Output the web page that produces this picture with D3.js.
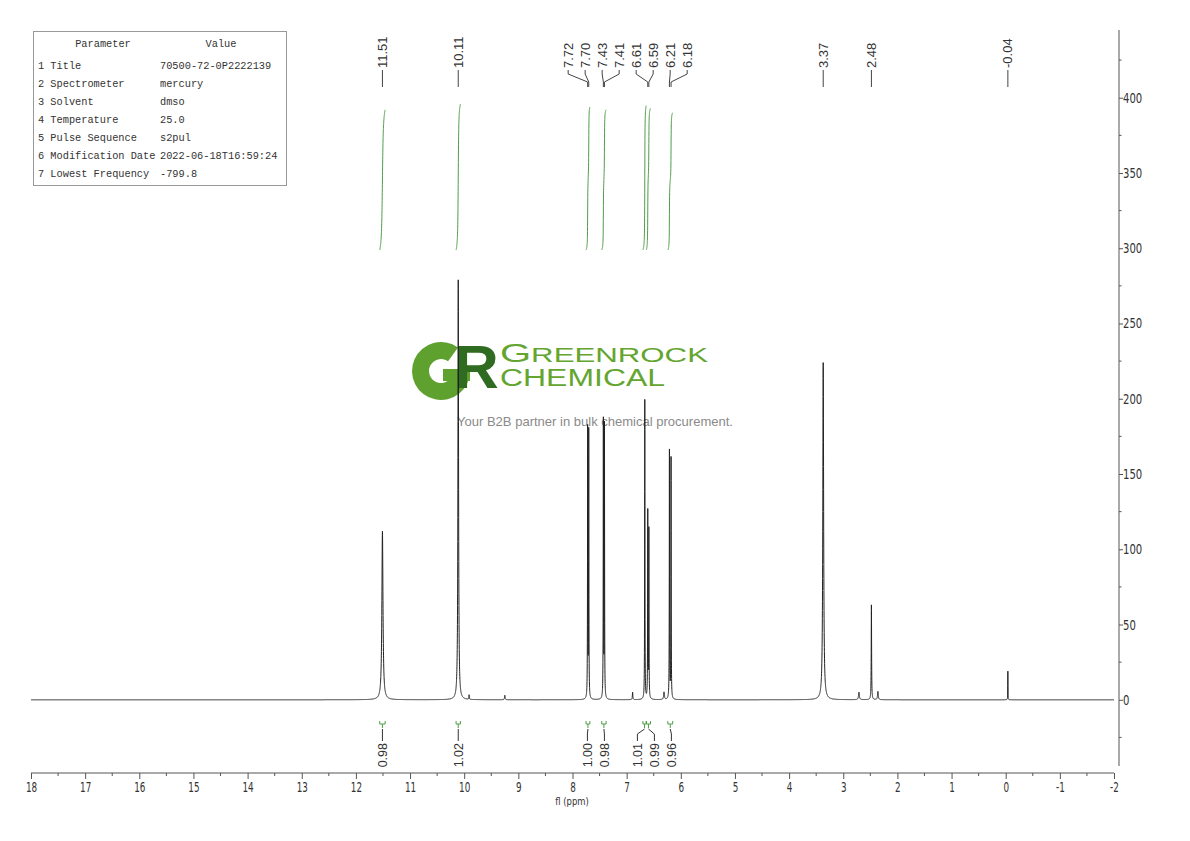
<!DOCTYPE html>
<html><head><meta charset="utf-8">
<script src="https://cdn.jsdelivr.net/npm/d3@7"></script>
<style>body{margin:0;background:#fff} svg{display:block}</style>
</head><body><svg id="c" width="1190" height="841"></svg>
<script>
// ---------- data ----------
const peakPpm    = [11.51, 10.11, 9.91, 9.25, 7.72, 7.70, 7.43, 7.41, 6.89, 6.665, 6.61, 6.59, 6.31, 6.21, 6.18, 3.37, 2.71, 2.48, 2.36, -0.04];
const peakHeight = [112, 279, 3, 3, 179, 177, 184, 181, 5, 199, 124, 112, 5, 165, 160, 224, 5, 63, 5.5, 19];
const peakWidth  = [0.012, 0.007, 0.004, 0.006, 0.003, 0.003, 0.003, 0.003, 0.005, 0.003, 0.003, 0.003, 0.008, 0.003, 0.003, 0.009, 0.009, 0.004, 0.008, 0.002];

const peakLabels = ["11.51", "10.11", "7.72", "7.70", "7.43", "7.41", "6.61", "6.59", "6.21", "6.18", "3.37", "2.48", "-0.04"];

const intFrom  = [11.56, 10.15, 7.75, 7.46, 6.70, 6.635, 6.24];
const intTo    = [11.46, 10.07, 7.68, 7.38, 6.64, 6.56, 6.15];
const intValue = [0.98, 1.02, 1.00, 0.98, 1.01, 0.99, 0.96];

const xTicks = [18, 17, 16, 15, 14, 13, 12, 11, 10, 9, 8, 7, 6, 5, 4, 3, 2, 1, 0, -1, -2];
const yTicks = [0, 50, 100, 150, 200, 250, 300, 350, 400];
const yMinorTicks = [-25, 25, 75, 125, 175, 225, 275, 325, 375, 425];

const paramNames  = ["1 Title", "2 Spectrometer", "3 Solvent", "4 Temperature", "5 Pulse Sequence", "6 Modification Date", "7 Lowest Frequency"];
const paramValues = ["70500-72-0P2222139", "mercury", "dmso", "25.0", "s2pul", "2022-06-18T16:59:24", "-799.8"];

// ---------- setup ----------
const svg = d3.select("#c");
const x = d3.scaleLinear().domain([18, -2]).range([31, 1114]);
const y = d3.scaleLinear().domain([-44, 445]).range([766, 30]);
const yInt = d3.scaleLinear().domain([0, 1]).range([250, 107]);
const narrow = "'Liberation Sans Narrow','DejaVu Sans Condensed','Liberation Sans',sans-serif";
const sans = "'Liberation Sans',Arial,sans-serif";
const green = "#4f9d47";
const fmt = d => String(d);

// ---------- spectrum samples ----------
const grid = d3.range(18, -2.0005, -0.001).concat(peakPpm).sort((a, b) => b - a);
function intensity(p) {
  let s = 0;
  for (let i = 0; i < peakPpm.length; i++) {
    const d = (p - peakPpm[i]) / peakWidth[i];
    s += peakHeight[i] / (1 + d * d);
  }
  return s;
}
const spectrum = grid.map(p => ({p, v: intensity(p)}));

// ---------- watermark ----------
const wm = svg.append("g");
const gc = [441, 371];
const arc = d3.arc().innerRadius(12).outerRadius(29);
wm.append("path")
  .attr("transform", `translate(${gc[0]},${gc[1]})`)
  .attr("d", arc({startAngle: Math.PI * 0.5, endAngle: Math.PI * 2.2}))
  .attr("fill", "#5fa12f");
wm.append("rect").attr("x", gc[0] + 2).attr("y", gc[1] - 2).attr("width", 27).attr("height", 12).attr("fill", "#5fa12f");
wm.append("text").attr("x", 454).attr("y", 388).attr("font-family", sans).attr("font-weight", "bold")
  .attr("font-size", 62).attr("fill", "#2f6b20").text("R");
const t1 = wm.append("text").attr("x", 500).attr("y", 362).attr("font-family", sans).attr("fill", "#64a52f")
  .attr("textLength", 208).attr("lengthAdjust", "spacingAndGlyphs");
t1.append("tspan").attr("font-size", 25).text("G");
t1.append("tspan").attr("font-size", 19.5).text("REENROCK");
wm.append("text").attr("x", 500).attr("y", 386).attr("font-family", sans).attr("fill", "#64a52f")
  .attr("font-size", 23.5).attr("textLength", 165).attr("lengthAdjust", "spacingAndGlyphs").text("CHEMICAL");
wm.append("text").attr("x", 457).attr("y", 426).attr("font-family", sans).attr("fill", "#8a8a8a")
  .attr("font-size", 13).attr("textLength", 276).attr("lengthAdjust", "spacingAndGlyphs")
  .text("Your B2B partner in bulk chemical procurement.");

// ---------- parameter table ----------
const tb = svg.append("g").attr("font-family", "'Liberation Mono','DejaVu Sans Mono',monospace").attr("font-size", 10.3).attr("fill", "#333");
tb.append("rect").attr("x", 33.5).attr("y", 31.5).attr("width", 253).attr("height", 154).attr("fill", "none").attr("stroke", "#999");
tb.append("text").attr("x", 103).attr("y", 47).attr("text-anchor", "middle").text("Parameter");
tb.append("text").attr("x", 221).attr("y", 47).attr("text-anchor", "middle").text("Value");
paramNames.forEach((n, i) => {
  tb.append("text").attr("x", 38).attr("y", 69 + i * 18).text(n);
  tb.append("text").attr("x", 160).attr("y", 69 + i * 18).text(paramValues[i]);
});

// ---------- spectrum ----------
svg.append("path").datum(spectrum)
  .attr("fill", "none").attr("stroke", "#222").attr("stroke-width", 1)
  .attr("d", d3.line().x(d => x(d.p)).y(d => y(d.v)));

// ---------- integral curves ----------
intFrom.forEach((f, k) => {
  const pts = spectrum.filter(d => d.p <= f && d.p >= intTo[k]);
  let acc = 0; const cum = [{p: pts[0].p, c: 0}];
  for (let i = 1; i < pts.length; i++) {
    acc += (pts[i].v + pts[i - 1].v) / 2 * (pts[i - 1].p - pts[i].p);
    cum.push({p: pts[i].p, c: acc});
  }
  const tot = acc;
  svg.append("path").datum(cum).attr("fill", "none").attr("stroke", green).attr("stroke-width", 1)
    .attr("d", d3.line().x(d => x(d.p)).y(d => yInt(d.c / tot * intValue[k])));
});

// ---------- label layout (cluster spreading) ----------
function spread(ideal, gap) {
  let clusters = ideal.map((v, i) => ({idx: [i], center: v}));
  let changed = true;
  while (changed) {
    changed = false;
    clusters.sort((a, b) => a.center - b.center);
    for (let i = 0; i < clusters.length - 1; i++) {
      const a = clusters[i], b = clusters[i + 1];
      const aEnd = a.center + (a.idx.length - 1) * gap / 2;
      const bStart = b.center - (b.idx.length - 1) * gap / 2;
      if (bStart - aEnd < gap) {
        const idx = a.idx.concat(b.idx).sort((m, n) => ideal[m] - ideal[n]);
        const c = d3.mean(idx, j => ideal[j]);
        clusters.splice(i, 2, {idx, center: c});
        changed = true; break;
      }
    }
  }
  const out = new Array(ideal.length);
  clusters.forEach(c => c.idx.forEach((j, r) => { out[j] = c.center + (r - (c.idx.length - 1) / 2) * gap; }));
  return out;
}

// ---------- peak labels ----------
const peakX = peakLabels.map(s => x(parseFloat(s)));
const peakLX = spread(peakX, 17);
const pl = svg.append("g");
peakLabels.forEach((s, i) => {
  pl.append("path").attr("fill", "none").attr("stroke", "#444").attr("stroke-width", 1)
    .attr("d", `M${peakLX[i]},70L${peakLX[i]},74L${peakX[i]},82L${peakX[i]},87`);
  pl.append("text").attr("transform", `translate(${peakLX[i]},68) rotate(-90)`)
    .attr("dy", "0.35em").attr("font-family", sans).attr("font-size", 13).attr("fill", "#333").text(s);
});

// ---------- integration marks ----------
const intX = intFrom.map((f, k) => (x(f) + x(intTo[k])) / 2);
const intLX = spread(intX, 17);
const ig = svg.append("g");
intFrom.forEach((f, k) => {
  const x1 = x(f), x2 = x(intTo[k]), xc = intX[k];
  ig.append("path").attr("fill", "none").attr("stroke", green).attr("stroke-width", 1)
    .attr("d", `M${x1},721L${x1},724L${x2},724L${x2},721M${xc},724L${xc},728`);
  ig.append("path").attr("fill", "none").attr("stroke", "#333").attr("stroke-width", 1)
    .attr("d", `M${xc},729L${intLX[k]},734L${intLX[k]},741`);
  ig.append("text").attr("transform", `translate(${intLX[k]},743) rotate(-90)`)
    .attr("dy", "0.35em").attr("text-anchor", "end").attr("font-family", sans).attr("font-size", 12.5)
    .attr("fill", "#333").text(intValue[k].toFixed(2));
});

// ---------- axes ----------
const xa = svg.append("g").attr("transform", "translate(0,773)");
xa.call(d3.axisBottom(x).tickValues(xTicks).tickSize(6).tickPadding(3).tickFormat(fmt));
xa.select(".domain").attr("d", `M${x(18)},0H${x(-2)}`).attr("stroke", "#555");
xa.selectAll(".tick line").attr("stroke", "#555");
xa.selectAll(".tick text").attr("font-family", narrow).attr("font-size", 14).attr("fill", "#333")
  .attr("transform", "scale(0.7,1)");
xa.selectAll(".minor").data(xTicks.slice(0, -1)).enter().append("line")
  .attr("x1", d => x(d - 0.5)).attr("x2", d => x(d - 0.5)).attr("y1", 0).attr("y2", 3).attr("stroke", "#555");
svg.append("text").attr("x", 572).attr("y", 805).attr("text-anchor", "middle")
  .attr("font-family", narrow).attr("font-size", 11).attr("fill", "#333")
  .attr("transform", "translate(572,0) scale(0.85,1) translate(-572,0)").text("fl (ppm)");

const ya = svg.append("g").attr("transform", "translate(1119,0)");
ya.call(d3.axisRight(y).tickValues(yTicks).tickSize(4).tickPadding(1).tickFormat(fmt));
ya.select(".domain").attr("d", "M0,30V766").attr("stroke", "#555");
ya.selectAll(".tick line").attr("stroke", "#555");
ya.selectAll(".tick text").attr("font-family", narrow).attr("font-size", 14).attr("fill", "#333")
  .attr("transform", "scale(0.8,1)");
ya.selectAll(".minor").data(yMinorTicks).enter().append("line")
  .attr("x1", 0).attr("x2", 2.5).attr("y1", d => y(d)).attr("y2", d => y(d)).attr("stroke", "#555");
</script></body></html>
